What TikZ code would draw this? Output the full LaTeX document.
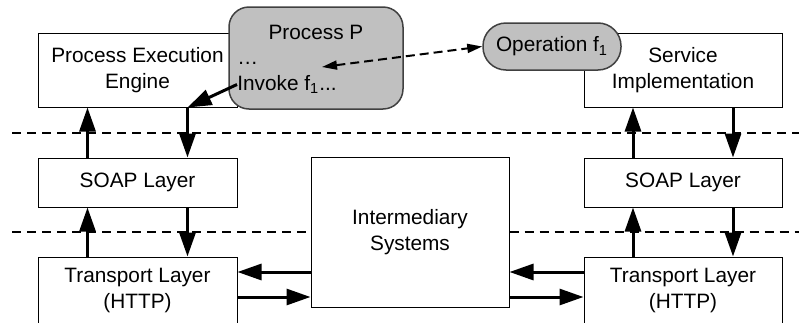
\documentclass[tikz,border=0pt]{standalone}
\usepackage{fontspec}
\setmainfont{Liberation Sans}
\usepackage{pgf,tikz}
\usetikzlibrary{positioning,shapes,fit,calc,arrows.meta}
\definecolor{procgray}{HTML}{C0C0C0}
\definecolor{procedge}{HTML}{404040}

\begin{document}
\begin{tikzpicture}[x=0.5pt,y=-0.5pt,
        font=\fontsize{10.4}{12.8}\selectfont,
        layer/.style={draw,line width=0.5pt,fill=white,align=center,inner sep=0pt,minimum width=99.5pt},
        flow/.style={line width=1.5pt,-{Triangle[length=12pt,width=8pt]}},
        sep/.style={line width=1pt,dash pattern=on 4.5pt off 3pt},
        call/.style={line width=1pt,dash pattern=on 4.5pt off 2.5pt,{Triangle[length=7.5pt,width=4.5pt]}-{Triangle[length=7.5pt,width=4.5pt]}},
        bubble/.style={draw=procedge,fill=procgray,line width=0.75pt,inner sep=0pt},
        txt/.style={inner sep=0pt,text height=7.5pt,text depth=2pt}]
        \useasboundingbox (0,0) rectangle (799,322);
        \clip (0,0) rectangle (799,322);

        \node[layer,minimum height=37pt](pee)at(137.5,70){Process Execution\\Engine};
        \node[layer,minimum height=24.5pt](soapL)at(137.5,182.5){SOAP Layer};
        \node[layer,minimum height=33.5pt](trL)at(137.5,290.5){Transport Layer\\(HTTP)};
        \node[layer,minimum width=99pt,minimum height=37pt](svc)at(683,70){Service\\Implementation};
        \node[layer,minimum width=99pt,minimum height=24.5pt](soapR)at(683,182.5){SOAP Layer};
        \node[layer,minimum width=99pt,minimum height=33.5pt](trR)at(683,290.5){Transport Layer\\(HTTP)};
        \node[layer,minimum width=99pt,minimum height=75pt](inter)at(410,232){Intermediary\\Systems};

        \node[bubble,rounded corners=10pt,minimum width=87pt,minimum height=51pt](proc)at(316,58){};
        \node[txt](procTitle)at(316,33.5){Process P};
        \node[txt,anchor=west](procDots)at(237,58.5){…};
        \node[txt,anchor=west](procInvoke)at(237,84.5){Invoke f\textsubscript{1}...};
        \node[bubble,rounded corners=11.5pt,minimum width=69pt,minimum height=23.5pt](oper)at(552,46.5){Operation f\textsubscript{1}};

        \draw[sep] (12,133) -- (799,133);
        \draw[sep] (12,232) -- (inter.west);
        \draw[sep] (inter.east) -- (799,232);

        \coordinate (handoff) at ([xshift=25pt]pee.south);
        \draw[flow] (procInvoke.west) -- (handoff);
        \draw[flow] (handoff) -- ([xshift=25pt]soapL.north);
        \draw[flow] ([xshift=-25pt]soapL.north) -- ([xshift=-25pt]pee.south);
        \draw[flow] ([xshift=25pt]soapL.south) -- ([xshift=25pt]trL.north);
        \draw[flow] ([xshift=-25pt]trL.north) -- ([xshift=-25pt]soapL.south);

        \draw[flow] ([xshift=25pt]svc.south) -- ([xshift=25pt]soapR.north);
        \draw[flow] ([xshift=-25pt]soapR.north) -- ([xshift=-25pt]svc.south);
        \draw[flow] ([xshift=25pt]soapR.south) -- ([xshift=25pt]trR.north);
        \draw[flow] ([xshift=-25pt]trR.north) -- ([xshift=-25pt]soapR.south);

        \coordinate (inL) at ([yshift=9.25pt]trL.east);
        \coordinate (outL) at ([yshift=-3.25pt]trL.east);
        \coordinate (inR) at ([yshift=9.25pt]trR.west);
        \coordinate (outR) at ([yshift=-3.25pt]trR.west);
        \draw[flow] (inter.west |- inL) -- (inL);
        \draw[flow] (outL) -- (inter.west |- outL);
        \draw[flow] (inR) -- (inter.east |- inR);
        \draw[flow] (inter.east |- outR) -- (outR);

        \coordinate (callpt) at (322,67);
        \draw[call] (callpt) -- (oper.west);
    \end{tikzpicture}
\end{document}
